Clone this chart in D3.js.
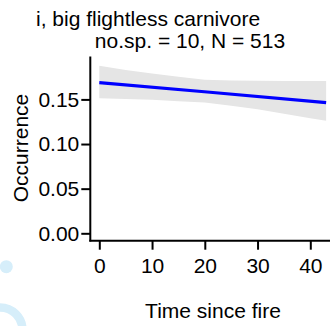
<html>
<head>
<script src="https://d3js.org/d3.v7.min.js"></script>
<style>
body { margin:0; background:#fff; }
text { font-family: "Liberation Sans", Arial, sans-serif; }
</style>
</head>
<body>
<script>
var width = 330;
var height = 326;

// fitted line (time since fire vs occurrence)
var fitTime = [0, 21, 43];
var fitValue = [0.1687, 0.158, 0.1463];

// confidence band
var bandTime  = [0, 5, 10, 15, 20, 25, 30, 35, 40, 43];
var bandUpper = [0.1877, 0.183, 0.179, 0.1755, 0.172, 0.1712, 0.1708, 0.1706, 0.1706, 0.1706];
var bandLower = [0.1512, 0.1505, 0.1495, 0.148, 0.1465, 0.143, 0.139, 0.134, 0.129, 0.1262];

var xTicks = [0, 10, 20, 30, 40];
var yTicks = [0, 0.05, 0.10, 0.15];

var title = "i, big flightless carnivore";
var subtitle = "no.sp. = 10, N = 513";

var x = d3.scaleLinear().domain([0, 40]).range([99.3, 310.3]);
var y = d3.scaleLinear().domain([0, 0.15]).range([233.3, 99.4]);

var svg = d3.select("body").append("svg")
    .attr("width", width)
    .attr("height", height);

// decorative blobs
svg.append("circle").attr("cx", 6.3).attr("cy", 266.7).attr("r", 6.5).attr("fill", "#d6eefa");
svg.append("circle").attr("cx", 0).attr("cy", 330).attr("r", 22.5)
    .attr("fill", "none").attr("stroke", "#d6eefa").attr("stroke-width", 8.4);

var band = bandTime.map(function(t, i) { return {t: t, lo: bandLower[i], hi: bandUpper[i]}; });
svg.append("path")
    .datum(band)
    .attr("fill", "#e5e5e5")
    .attr("d", d3.area()
        .x(function(d) { return x(d.t); })
        .y0(function(d) { return y(d.lo); })
        .y1(function(d) { return y(d.hi); }));

svg.append("path")
    .datum(fitTime.map(function(t, i) { return [t, fitValue[i]]; }))
    .attr("fill", "none")
    .attr("stroke", "#0000ff")
    .attr("stroke-width", 3.2)
    .attr("d", d3.line()
        .x(function(d) { return x(d[0]); })
        .y(function(d) { return y(d[1]); }));

var yAxis = svg.append("g")
    .attr("transform", "translate(90.3,0)")
    .call(d3.axisLeft(y).tickValues(yTicks).tickFormat(d3.format(".2f")).tickSize(9).tickPadding(2));
yAxis.select(".domain").remove();
yAxis.append("line").attr("x1", 0).attr("x2", 0).attr("y1", 56.5).attr("y2", 241.5)
    .attr("stroke", "#000").attr("stroke-width", 2);

var xAxis = svg.append("g")
    .attr("transform", "translate(0,240.7)")
    .call(d3.axisBottom(x).tickValues(xTicks).tickSize(9).tickPadding(8));
xAxis.select(".domain").remove();
xAxis.append("line").attr("x1", 89.3).attr("x2", 330).attr("y1", 0).attr("y2", 0)
    .attr("stroke", "#000").attr("stroke-width", 2);

svg.selectAll(".tick line").attr("stroke", "#000").attr("stroke-width", 2);
svg.selectAll(".tick text").attr("font-size", 21).attr("fill", "#000")
    .style("font-family", "Liberation Sans, Arial, sans-serif");

svg.append("text").attr("x", 36).attr("y", 26)
    .attr("font-size", 21).text(title);
svg.append("text").attr("x", 190).attr("y", 47.5)
    .attr("text-anchor", "middle").attr("font-size", 21).text(subtitle);

svg.append("text").attr("x", 213).attr("y", 318)
    .attr("text-anchor", "middle").attr("font-size", 21).text("Time since fire");
svg.append("text")
    .attr("transform", "translate(28,148) rotate(-90)")
    .attr("text-anchor", "middle").attr("font-size", 21).text("Occurrence");
</script>
</body>
</html>
